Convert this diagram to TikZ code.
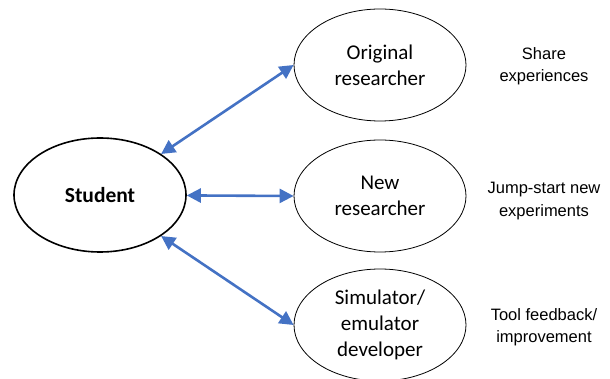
\documentclass[tikz,border=0pt]{standalone}
\usepackage{fontspec}
\setmainfont{Carlito}
\newfontfamily\notefont{Liberation Sans}
\usepackage{xcolor}
\usepackage{tikz}
\usetikzlibrary{shapes}
\usetikzlibrary{shapes.geometric}
\usetikzlibrary{arrows.meta}
\definecolor{linkblue}{HTML}{4472C4}
\tikzset{
    rolenode/.style = {ellipse, draw=black, line width=0.8pt, align=center, inner sep=0pt, minimum width=172pt, minimum height=112pt, font=\fontsize{21}{26}\selectfont},
    studentnode/.style = {ellipse, draw=black, line width=1.6pt, align=center, inner sep=0pt, minimum width=172pt, minimum height=114pt, font=\bfseries\fontsize{21.5}{26}\selectfont},
    notenode/.style = {align=center, font=\notefont\fontsize{16.5}{22.5}\selectfont},
}

\begin{document}
\begin{tikzpicture}[
	x=1pt,
	y=-1pt
]
\tikzset{
    edgeb/.style = {{Triangle[length=14pt,width=14pt]}-{Triangle[length=14pt,width=14pt]}, line width=2.6pt, linkblue}
}
\useasboundingbox (0,0) rectangle (610,379);
\node[studentnode] at (100,195) (stud) {Student};
\node[rolenode] at (380,65) (orig) {Original\\researcher};
\node[rolenode] at (380,196) (newr) {New\\researcher};
\node[rolenode] at (380,325) (simd) {Simulator/\\emulator\\developer};
%
\node[notenode] at (544,66) (share) {Share\\experiences};
\node[notenode] at (544,201) (jump) {Jump-start new\\experiments};
\node[notenode] at (544,327) (tool) {Tool feedback/\\improvement};
%
\draw[edgeb] (stud) -- (orig.west);
\draw[edgeb] (stud) -- (newr.west);
\draw[edgeb] (stud) -- (simd.west);
\end{tikzpicture}
\end{document}
